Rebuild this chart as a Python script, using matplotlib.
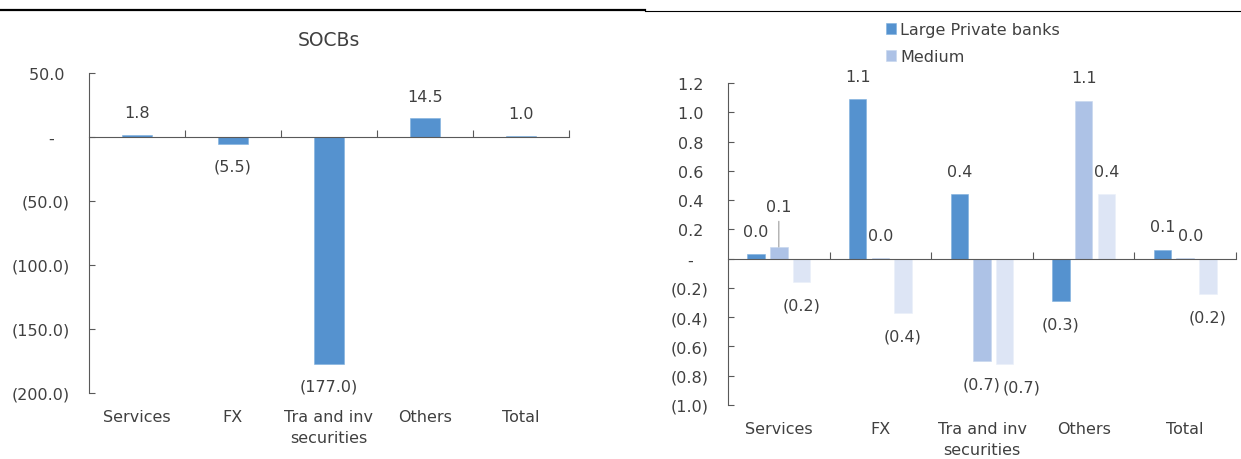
import matplotlib
matplotlib.use("Agg")
import matplotlib.pyplot as plt
from matplotlib.lines import Line2D

# categories shared by both panels
categories = ["Services", "FX", "Tra and inv\nsecurities", "Others", "Total"]

# SOCBs panel
socbs = [1.8, -5.5, -177.0, 14.5, 1.0]
socbs_ticks = [50, 0, -50, -100, -150, -200]

# private banks panel
large_private = [0.03, 1.09, 0.44, -0.29, 0.06]
medium = [0.08, 0.003, -0.70, 1.08, 0.003]
small = [-0.16, -0.37, -0.72, 0.44, -0.24]
private_ticks = [1.2, 1.0, 0.8, 0.6, 0.4, 0.2, 0.0, -0.2, -0.4, -0.6, -0.8, -1.0]

TXT = "#404040"
AX = "#595959"
C_LARGE = "#5592cf"
C_MED = "#adc2e6"
C_SMALL = "#dde5f5"

plt.rcParams["font.family"] = ["DejaVu Sans"]
plt.rcParams["font.size"] = 11.5

W, H = 1241, 460
fig = plt.figure(figsize=(W / 100, H / 100), dpi=100)


def px_axes(x0, y_top, x1, y_bot):
    return fig.add_axes([x0 / W, 1 - y_bot / H, (x1 - x0) / W, (y_bot - y_top) / H])


def acct(v, digits=1):
    # accounting style: zero as a dash, negatives in brackets
    if abs(v) < 1e-9:
        return "-\u2007 "
    s = f"{abs(v):,.{digits}f}"
    return f"({s})" if v < 0 else s + " "


def value_label(v):
    s = f"{abs(v):.1f}"
    return f"({s})" if v < 0 else s


def style_axes(ax, ticks):
    for side in ("top", "right"):
        ax.spines[side].set_visible(False)
    ax.spines["left"].set_color(AX)
    ax.spines["bottom"].set_color(AX)
    ax.spines["bottom"].set_position(("data", 0))
    ax.set_yticks(ticks)
    ax.set_yticklabels([acct(t) for t in ticks])
    ax.tick_params(axis="y", direction="in", length=4, color=AX,
                   labelcolor=TXT, pad=14)
    ax.set_xticks([i + 0.5 for i in range(len(categories))])
    ax.set_xticklabels([])
    ax.tick_params(axis="x", direction="in", length=5, color=AX)
    ax.set_xlim(-0.5, len(categories) - 0.5)
    trans = ax.get_xaxis_transform()
    for i, c in enumerate(categories):
        ax.text(i, -0.05, c, transform=trans, ha="center", va="top",
                color=TXT, linespacing=1.5)


def put_label(ax, x, v, off=23, dx=0, leader=False):
    sign = 1 if v >= 0 else -1
    kw = {}
    if leader:
        kw["arrowprops"] = dict(arrowstyle="-", color="#a6a6a6", lw=0.9,
                                shrinkA=3, shrinkB=0)
    ax.annotate(value_label(v), xy=(x, v), xytext=(dx, sign * off),
                textcoords="offset pixels", ha="center", va="center",
                color=TXT, **kw)


# left panel
ax1 = px_axes(89, 74, 569, 394)
xs = list(range(len(categories)))
ax1.bar(xs, socbs, width=0.32, color=C_LARGE, edgecolor="#7fb0de", linewidth=0.4)
ax1.set_ylim(-200, 50)
style_axes(ax1, socbs_ticks)
for x, v in zip(xs, socbs):
    put_label(ax1, x, v, off=22)
ax1.set_title("SOCBs", color=TXT, fontsize=13.5, pad=20)

# right panel
ax2 = px_axes(728, 84, 1236, 406)
off = 0.223
bw = 0.172
ax2.bar([x - off for x in xs], large_private, width=bw, color=C_LARGE,
        edgecolor="#7fb0de", linewidth=0.4, label="Large Private banks")
ax2.bar(xs, medium, width=bw, color=C_MED, edgecolor="#c6d6ee",
        linewidth=0.4, label="Medium")
ax2.bar([x + off for x in xs], small, width=bw, color=C_SMALL,
        edgecolor="#eaf0f9", linewidth=0.4, label="_nolegend_")
ax2.set_ylim(-1.0, 1.2)
style_axes(ax2, private_ticks)

for x, v in zip(xs, large_private):
    put_label(ax2, x - off, v)
for i, (x, v) in enumerate(zip(xs, medium)):
    if i == 0:
        put_label(ax2, x, v, off=40, leader=True)
    elif i == len(xs) - 1:
        put_label(ax2, x, v, dx=5)
    else:
        put_label(ax2, x, v)
for i, (x, v) in enumerate(zip(xs, small)):
    put_label(ax2, x + off, v, dx=17 if i == 2 else 0)

fig.legend(loc="upper left", bbox_to_anchor=(886 / W, 1 - 23 / H),
           frameon=False, handlelength=0.65, handleheight=0.65,
           handletextpad=0.25, borderpad=0, borderaxespad=0,
           labelspacing=0.75, labelcolor=TXT)

# rules across the top of the page
fig.add_artist(Line2D([0, 645 / W], [1 - 11 / H] * 2, color="black", lw=1.6))
fig.add_artist(Line2D([645 / W, 1], [1 - 12 / H] * 2, color="black", lw=0.8))

fig.savefig("out.png", dpi=100)
